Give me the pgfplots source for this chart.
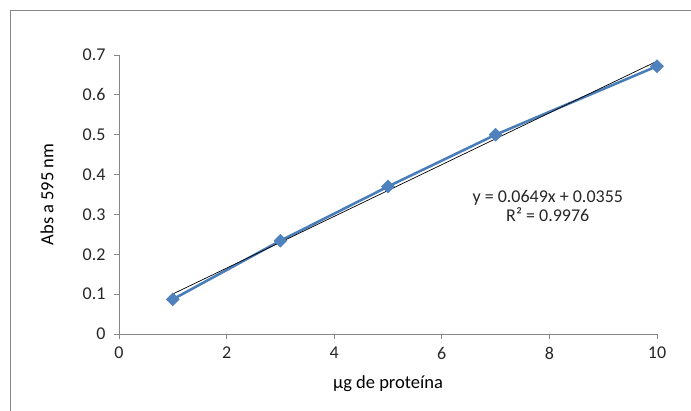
\documentclass[border=0pt]{standalone}
\usepackage{fontspec}
\setmainfont{Carlito}
\usepackage{pgfplots}
\pgfplotsset{compat=1.18}
\definecolor{serblue}{HTML}{4A7EBB}
\definecolor{mkblue}{HTML}{4F81BD}
\definecolor{axgray}{HTML}{868686}
\definecolor{txt}{HTML}{262626}
\begin{document}
\begin{tikzpicture}
\path[use as bounding box] (-119pt,-76pt) rectangle (572pt,334pt);
\draw[axgray, line width=1pt] (-108pt,-90pt) rectangle (600pt,323.3pt);
\begin{axis}[
  at={(0pt,0pt)}, anchor=south west,
  scale only axis, width=538pt, height=279pt,
  xmin=0, xmax=10, ymin=0, ymax=0.7,
  axis lines=left,
  axis line style={-, axgray, line width=0.8pt},
  tick style={axgray, line width=0.8pt},
  tick align=outside, major tick length=5pt,
  xtick={0,2,4,6,8,10},
  ytick={0,0.1,0.2,0.3,0.4,0.5,0.6,0.7},
  /pgf/number format/assume math mode=true,
  /pgf/number format/fixed,
  /pgf/number format/precision=1,
  tick label style={font=\fontsize{18}{20}\selectfont, text=txt},
  xticklabel style={yshift=-4.5pt},
  yticklabel style={xshift=-5pt},
  label style={font=\fontsize{18.5}{20}\selectfont, text=black},
  xlabel={µg de proteína},
  ylabel={Abs a 595 nm},
  xlabel style={at={(axis description cs:0.5,-0.179)}, anchor=center},
  ylabel style={at={(axis description cs:-0.134,0.5)}, anchor=center, rotate=0},
  clip=false,
]
\addplot[serblue, line width=2.6pt, mark=square*, mark size=4.6pt,
  mark options={rotate=45, fill=mkblue, draw=mkblue, line width=0.5pt}]
  coordinates {(1,0.087) (3,0.234) (5,0.370) (7,0.500) (10,0.672)};
\addplot[black, line width=0.7pt] coordinates {(1,0.1004) (10,0.6845)};
\node[align=center, font=\fontsize{18}{19}\selectfont, text=txt] at (axis cs:7.97,0.32)
  {y = 0.0649x + 0.0355\\R² = 0.9976};
\end{axis}
\end{tikzpicture}
\end{document}
